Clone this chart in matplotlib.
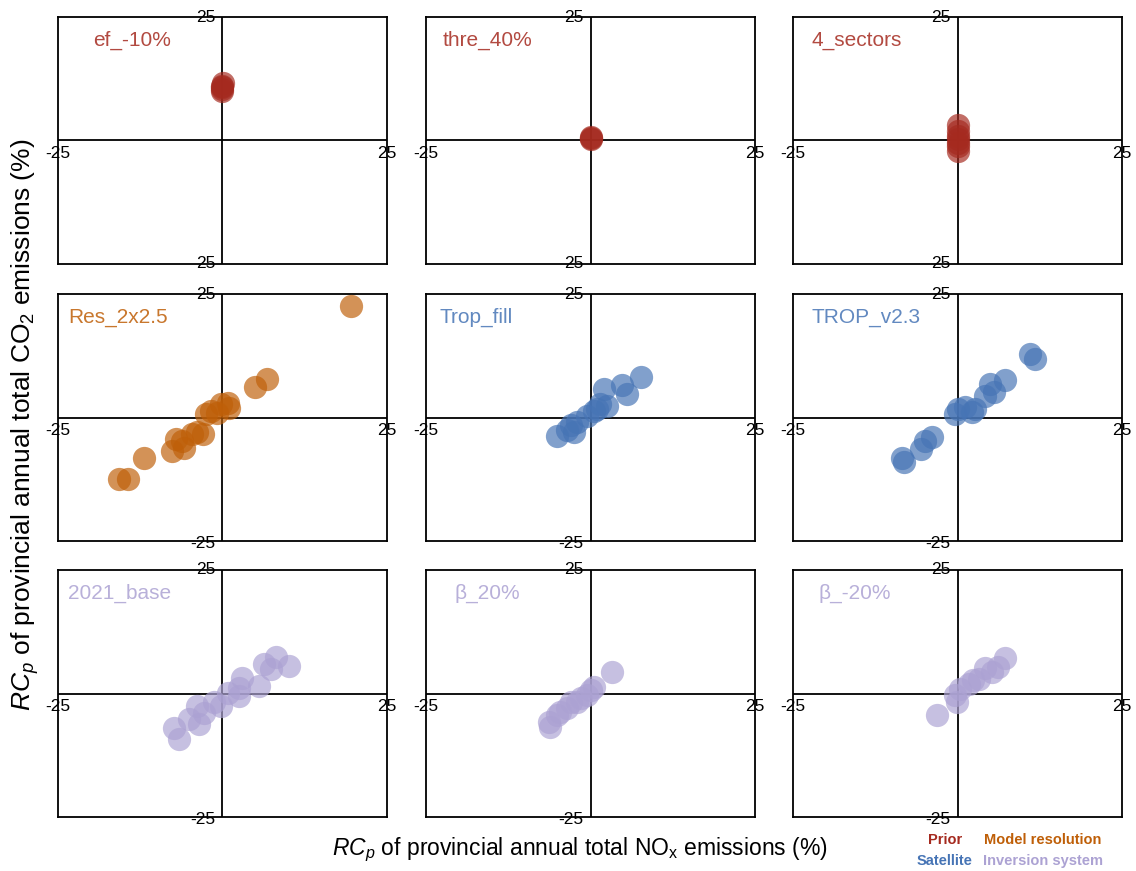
import matplotlib
matplotlib.use("Agg")
import matplotlib.pyplot as plt

plt.rcParams['font.family'] = ['Liberation Sans', 'DejaVu Sans']
plt.rcParams['mathtext.fontset'] = 'custom'
plt.rcParams['mathtext.rm'] = 'Liberation Sans'
plt.rcParams['mathtext.it'] = 'Liberation Sans:italic'

# ----------------------------------------------------------------------
# data: RC_p (%) of NOx (x) and CO2 (y) for each sensitivity experiment
# ----------------------------------------------------------------------
names = ["ef_-10%", "thre_40%", "4_sectors",
         "Res_2x2.5", "Trop_fill", "TROP_v2.3",
         "2021_base", "β_20%", "β_-20%"]
groups = ["Prior", "Prior", "Prior",
          "Model resolution", "Satellite", "Satellite",
          "Inversion system", "Inversion system", "Inversion system"]

ef_x = [0.0, 0.0, 0.0, 0.1, 0.0]
ef_y = [10.0, 10.4, 11.0, 11.6, 10.8]

thre_x = [0.0, 0.1, 0.0]
thre_y = [0.3, 0.7, 0.5]

sec_x = [0.0, 0.0, 0.0, 0.0, 0.0, 0.0, 0.0]
sec_y = [3.2, 2.0, 1.0, 0.3, -0.5, -1.2, -2.2]

res_x = [19.6, 6.7, 5.0, 0.8, -0.25, -1.8, -2.5, 1.0, -3.0, -4.6,
         -6.1, -7.1, -7.6, -5.8, -11.9, -14.4, -15.7, -0.8, -3.9]
res_y = [22.5, 7.8, 6.2, 3.0, 2.7, 1.4, 0.7, 2.0, -3.4, -3.4,
         -4.7, -4.4, -6.8, -6.1, -8.1, -12.5, -12.5, 1.0, -3.0]

tf_x = [7.6, 4.8, 5.6, 2.0, 2.5, 1.0, -0.5, -2.0, -3.0, -2.5, -5.1, -3.5, 0.5, 1.5]
tf_y = [8.2, 6.5, 4.8, 5.8, 2.4, 1.8, 0.4, -1.0, -1.6, -3.0, -3.7, -2.6, 1.4, 2.8]

tv_x = [11.0, 11.8, 7.2, 5.0, 5.5, 4.2, 2.7, 1.2, 0.15, -0.35, 2.2, -3.9, -4.9, -5.6, -8.4, -8.1]
tv_y = [12.9, 11.9, 7.5, 6.8, 5.1, 4.4, 1.7, 2.1, 1.7, 0.7, 1.1, -4.0, -4.7, -6.4, -8.1, -9.1]

base_x = [10.1, 8.1, 6.3, 7.3, 5.6, 3.0, 2.5, 2.5, 0.8, -0.25, -1.3, -2.8, -3.8, -3.6, -5.1, -7.4, -6.6]
base_y = [5.6, 7.3, 6.0, 4.9, 1.6, 3.2, 1.2, -0.5, 0.2, -2.5, -1.8, -3.9, -2.5, -6.2, -5.2, -6.9, -9.3]

bp_x = [3.3, 0.5, -0.5, -2.0, -3.5, -5.1, -6.3, -6.1, -3.0, -1.5, 0.0, -4.6]
bp_y = [4.4, 1.4, -0.3, -1.7, -3.0, -4.4, -5.8, -6.8, -1.7, -1.0, 0.7, -3.7]

bm_x = [7.2, 6.2, 4.2, 3.2, 1.7, 0.4, -0.35, -0.1, -3.1, 5.2, 2.4]
bm_y = [7.1, 5.4, 5.1, 3.0, 2.0, 1.0, -0.3, -1.7, -4.3, 4.4, 2.7]

xs = [ef_x, thre_x, sec_x, res_x, tf_x, tv_x, base_x, bp_x, bm_x]
ys = [ef_y, thre_y, sec_y, res_y, tf_y, tv_y, base_y, bp_y, bm_y]

colors = {"Prior": "#A52A1F", "Model resolution": "#BF5F08",
          "Satellite": "#4674B5", "Inversion system": "#ACA2D3"}

# bottom y tick label per row (in the top row the minus sits under the spine)
bottom_labels = ["25", "-25", "-25"]

# ----------------------------------------------------------------------
# layout (pixels)
# ----------------------------------------------------------------------
W, H = 1136, 871
col_left = [58, 426, 793]
row_top = [17, 294, 570]
pw, ph = 329, 247
label_dx = [35, 17, 19, 10, 14, 19, 10, 29, 26]
bottom_dy = [0, -2, -2]

fig = plt.figure(figsize=(W / 100, H / 100), dpi=100)

for i in range(9):
    r, c = divmod(i, 3)
    ax = fig.add_axes([col_left[c] / W, 1 - (row_top[r] + ph) / H, pw / W, ph / H])
    ax.set_xlim(-25, 25)
    ax.set_ylim(-25, 25)
    ax.set_xticks([])
    ax.set_yticks([])
    for sp in ax.spines.values():
        sp.set_linewidth(1.3)
        sp.set_color("black")
    ax.axhline(0, color="black", lw=1.3, zorder=1)
    ax.axvline(0, color="black", lw=1.3, zorder=1)

    col = colors[groups[i]]
    ax.scatter(xs[i], ys[i], s=280, color=col, alpha=0.68, linewidths=0, zorder=3,
               clip_on=False)

    ax.text(label_dx[i] / pw, 1 - 23 / ph, names[i], transform=ax.transAxes,
            ha="left", va="center", fontsize=15, color=col, alpha=0.85)

    # tick labels at the ends of the cross lines (top/bottom ones sit just left of the line)
    ax.annotate("25", (0, 25), xytext=(-5, 0), textcoords="offset points",
                ha="right", va="center", fontsize=12.5, annotation_clip=False)
    ax.annotate(bottom_labels[r], (0, -25), xytext=(-5, bottom_dy[r]),
                textcoords="offset points", ha="right", va="center",
                fontsize=12.5, annotation_clip=False)
    ax.annotate("-25", (-25, 0), xytext=(0, -4), textcoords="offset points",
                ha="center", va="top", fontsize=12.5, annotation_clip=False)
    ax.annotate("25", (25, 0), xytext=(0, -4), textcoords="offset points",
                ha="center", va="top", fontsize=12.5, annotation_clip=False)

fig.text(25 / W, 1 - 425 / H,
         r"$RC_p$ of provincial annual total CO$_2$ emissions (%)",
         rotation=90, ha="center", va="center", fontsize=19)
fig.text(580 / W, 1 - 850 / H,
         r"$RC_p$ of provincial annual total NO$_\mathrm{x}$ emissions (%)",
         ha="center", va="center", fontsize=16.5)

fig.text(945 / W, 1 - 840 / H, "Prior", ha="center", va="center",
         fontsize=10.5, fontweight="bold", color=colors["Prior"])
fig.text(945 / W, 1 - 861 / H, "Satellite", ha="center", va="center",
         fontsize=10.5, fontweight="bold", color=colors["Satellite"])
fig.text(1043 / W, 1 - 840 / H, "Model resolution", ha="center", va="center",
         fontsize=10.5, fontweight="bold", color=colors["Model resolution"])
fig.text(1043 / W, 1 - 861 / H, "Inversion system", ha="center", va="center",
         fontsize=10.5, fontweight="bold", color=colors["Inversion system"])

fig.savefig("out.png", dpi=100)
